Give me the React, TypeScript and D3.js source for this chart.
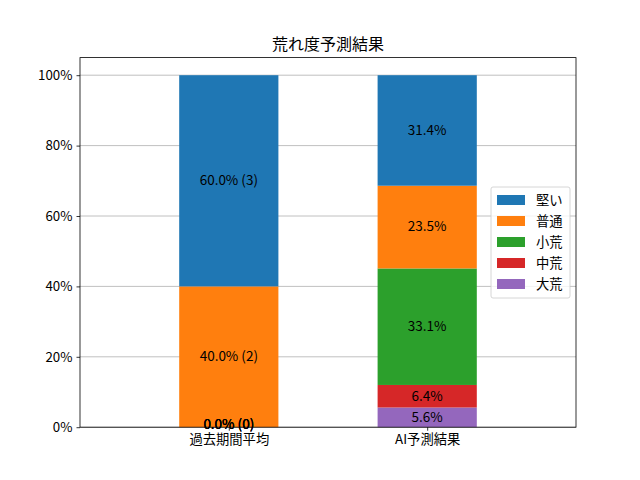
import React, { useRef, useEffect } from 'react';
import * as d3 from 'd3';

// categories and series (percent values, counts for past)
const categories = ['過去期間平均', 'AI予測結果'];
const seriesNames = ['堅い', '普通', '小荒', '中荒', '大荒'];
const seriesColors = ['#1f77b4', '#ff7f0e', '#2ca02c', '#d62728', '#9467bd'];
// values per series: [past, ai]
const katai = [60.0, 31.4];
const futsu = [40.0, 23.5];
const koare = [0.0, 33.1];
const chuare = [0.0, 6.4];
const ooare = [0.0, 5.6];
const pastCounts = [3, 2, 0, 0, 0];
const yTicks = [0, 20, 40, 60, 80, 100];

const seriesValues = [katai, futsu, koare, chuare, ooare];

const FONT = '"Noto Sans CJK JP", "DejaVu Sans", sans-serif';

const Chart: React.FC = () => {
  const ref = useRef<SVGSVGElement>(null);

  useEffect(() => {
    if (!ref.current) return;
    const svg = d3.select(ref.current);
    svg.selectAll('*').remove();

    const width = 640;
    const height = 480;
    const margin = { top: 57.6, right: 64, bottom: 52.8, left: 80 };
    const w = width - margin.left - margin.right;
    const h = height - margin.top - margin.bottom;

    const x = d3.scaleLinear().domain([-0.75, 1.75]).range([0, w]);
    const y = d3.scaleLinear().domain([0, 105]).range([h, 0]);
    const barW = x(0.5) - x(0);

    svg.append('rect').attr('width', width).attr('height', height).attr('fill', '#fff');

    svg.append('text')
      .attr('x', margin.left + w / 2)
      .attr('y', margin.top - 8)
      .attr('text-anchor', 'middle')
      .attr('font-family', FONT)
      .attr('font-size', 16)
      .text('荒れ度予測結果');

    const g = svg.append('g').attr('transform', `translate(${margin.left},${margin.top})`);

    // grid behind bars
    g.append('g')
      .selectAll('line')
      .data(yTicks)
      .join('line')
      .attr('x1', 0)
      .attr('x2', w)
      .attr('y1', d => y(d))
      .attr('y2', d => y(d))
      .attr('stroke', '#b0b0b0')
      .attr('stroke-width', 0.8);

    // stack bottom-up: 大荒, 中荒, 小荒, 普通, 堅い
    const order = [4, 3, 2, 1, 0];
    const labels = g.append('g');
    categories.forEach((_, ci) => {
      let base = 0;
      order.forEach(si => {
        const v = seriesValues[si][ci];
        g.append('rect')
          .attr('x', x(ci) - barW / 2)
          .attr('y', y(base + v))
          .attr('width', barW)
          .attr('height', y(base) - y(base + v))
          .attr('fill', seriesColors[si]);
        const label = ci === 0 ? `${v.toFixed(1)}% (${pastCounts[si]})` : `${v.toFixed(1)}%`;
        labels.append('text')
          .attr('x', x(ci))
          .attr('y', y(base + v / 2))
          .attr('dy', v === 0 ? '0.1em' : '0.32em')
          .attr('text-anchor', 'middle')
          .attr('font-family', FONT)
          .attr('font-size', 13.5)
          .attr('fill', '#000')
          .text(label);
        base += v;
      });
    });
    labels.raise();

    // axes
    const yAxis = d3.axisLeft(y)
      .tickValues(yTicks)
      .tickSize(3.5)
      .tickPadding(4)
      .tickFormat(d => `${d}%`);
    const ya = g.append('g').call(yAxis);
    ya.selectAll('text').attr('font-family', FONT).attr('font-size', 13.3).attr('fill', '#000');

    const xAxis = d3.axisBottom(x)
      .tickValues([0, 1])
      .tickSize(3.5)
      .tickPadding(4)
      .tickFormat(d => categories[d as number]);
    const xa = g.append('g').attr('transform', `translate(0,${h})`).call(xAxis);
    xa.selectAll('text').attr('font-family', FONT).attr('font-size', 13.3).attr('fill', '#000');
    g.selectAll('.domain').remove();
    g.selectAll('.tick line').attr('stroke', '#000').attr('stroke-width', 0.8);

    g.append('rect')
      .attr('width', w)
      .attr('height', h)
      .attr('fill', 'none')
      .attr('stroke', '#000')
      .attr('stroke-width', 0.8);

    // legend
    const lx = 491 - margin.left;
    const ly = 187 - margin.top;
    const lg = g.append('g').attr('transform', `translate(${lx},${ly})`);
    lg.append('rect')
      .attr('width', 79)
      .attr('height', 111)
      .attr('rx', 2)
      .attr('fill', '#fff')
      .attr('fill-opacity', 0.8)
      .attr('stroke', '#ccc')
      .attr('stroke-width', 0.8);
    seriesNames.forEach((name, i) => {
      const row = lg.append('g').attr('transform', `translate(0,${13 + i * 21})`);
      row.append('rect')
        .attr('x', 6)
        .attr('y', -5)
        .attr('width', 28)
        .attr('height', 10)
        .attr('fill', seriesColors[i]);
      row.append('text')
        .attr('x', 45)
        .attr('dy', '0.35em')
        .attr('font-family', FONT)
        .attr('font-size', 13.3)
        .attr('fill', '#000')
        .text(name);
    });
  }, []);

  return <svg ref={ref} width={640} height={480} style={{ display: 'block' }} />;
};

export default function App() {
  return (
    <div style={{ margin: -8 }}>
      <Chart />
    </div>
  );
}
